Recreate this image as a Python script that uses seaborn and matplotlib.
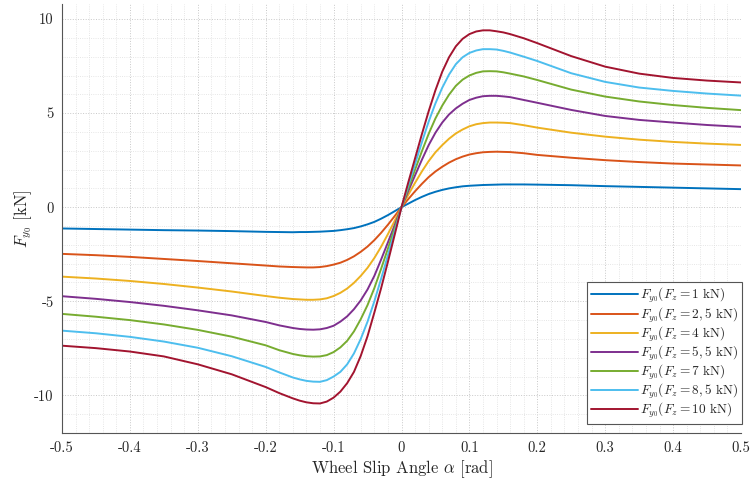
import numpy as np
import pandas as pd
import matplotlib
matplotlib.use("Agg")
import matplotlib.pyplot as plt
from matplotlib.ticker import MultipleLocator
import seaborn as sns

# ---- data (slip angle in rad, lateral force in kN) ----
alpha = [-0.50, -0.45, -0.40, -0.35, -0.30, -0.25, -0.20, -0.18,
         -0.16, -0.15, -0.14, -0.13, -0.12, -0.11, -0.10, -0.09,
         -0.08, -0.07, -0.06, -0.05, -0.04, -0.03, -0.02, -0.01,
         0.00,
         0.01, 0.02, 0.03, 0.04, 0.05, 0.06, 0.07, 0.08,
         0.09, 0.10, 0.11, 0.12, 0.13, 0.14, 0.15, 0.16,
         0.18, 0.20, 0.25, 0.30, 0.35, 0.40, 0.45, 0.50]

fy_1 = [-1.13, -1.16, -1.19, -1.22, -1.24, -1.27, -1.31, -1.32,
        -1.33, -1.32, -1.32, -1.31, -1.30, -1.28, -1.26, -1.22,
        -1.17, -1.11, -1.02, -0.91, -0.78, -0.61, -0.42, -0.21,
        0.00,
        0.19, 0.38, 0.55, 0.70, 0.82, 0.92, 1.00, 1.06,
        1.11, 1.14, 1.16, 1.18, 1.19, 1.20, 1.21, 1.21,
        1.21, 1.20, 1.17, 1.12, 1.08, 1.04, 1.00, 0.96]
fy_2_5 = [-2.48, -2.55, -2.64, -2.75, -2.86, -2.98, -3.10, -3.15,
          -3.18, -3.19, -3.20, -3.20, -3.18, -3.13, -3.05, -2.95,
          -2.80, -2.61, -2.37, -2.09, -1.75, -1.36, -0.93, -0.47,
          0.00,
          0.43, 0.85, 1.24, 1.60, 1.90, 2.15, 2.37, 2.55,
          2.69, 2.80, 2.87, 2.92, 2.94, 2.95, 2.94, 2.93,
          2.87, 2.78, 2.63, 2.50, 2.40, 2.32, 2.27, 2.22]
fy_4 = [-3.69, -3.79, -3.92, -4.08, -4.27, -4.48, -4.72, -4.81,
        -4.88, -4.90, -4.92, -4.92, -4.90, -4.84, -4.72, -4.55,
        -4.32, -4.02, -3.65, -3.22, -2.70, -2.10, -1.43, -0.72,
        0.00,
        0.66, 1.30, 1.90, 2.45, 2.92, 3.30, 3.64, 3.92,
        4.13, 4.30, 4.41, 4.47, 4.50, 4.50, 4.49, 4.47,
        4.36, 4.23, 3.96, 3.75, 3.59, 3.47, 3.38, 3.31]
fy_5_5 = [-4.73, -4.87, -5.04, -5.24, -5.48, -5.75, -6.10, -6.28,
          -6.42, -6.47, -6.50, -6.51, -6.49, -6.42, -6.30, -6.08,
          -5.80, -5.42, -4.95, -4.37, -3.65, -2.78, -1.87, -0.95,
          0.00,
          0.86, 1.70, 2.52, 3.30, 3.96, 4.50, 4.93, 5.25,
          5.50, 5.70, 5.82, 5.90, 5.92, 5.92, 5.89, 5.85,
          5.70, 5.55, 5.17, 4.85, 4.64, 4.50, 4.37, 4.27]
fy_7 = [-5.67, -5.82, -6.00, -6.23, -6.52, -6.88, -7.34, -7.60,
        -7.80, -7.87, -7.92, -7.94, -7.93, -7.86, -7.70, -7.45,
        -7.10, -6.60, -5.95, -5.20, -4.30, -3.27, -2.20, -1.10,
        0.00,
        1.00, 2.00, 2.97, 3.90, 4.72, 5.40, 5.98, 6.45,
        6.78, 7.00, 7.14, 7.22, 7.23, 7.22, 7.17, 7.10,
        6.95, 6.76, 6.25, 5.88, 5.62, 5.43, 5.28, 5.16]
fy_8_5 = [-6.56, -6.70, -6.89, -7.14, -7.47, -7.92, -8.49, -8.78,
          -9.05, -9.15, -9.23, -9.27, -9.28, -9.19, -9.00, -8.75,
          -8.35, -7.77, -7.00, -6.08, -5.00, -3.80, -2.55, -1.28,
          0.00,
          1.16, 2.30, 3.45, 4.55, 5.52, 6.35, 7.05, 7.60,
          7.97, 8.20, 8.33, 8.40, 8.40, 8.38, 8.31, 8.22,
          8.00, 7.77, 7.12, 6.66, 6.36, 6.18, 6.04, 5.93]
fy_10 = [-7.36, -7.49, -7.67, -7.93, -8.35, -8.88, -9.56, -9.88,
         -10.16, -10.28, -10.37, -10.42, -10.43, -10.33, -10.12, -9.80,
         -9.35, -8.75, -7.90, -6.85, -5.60, -4.30, -2.90, -1.46,
         0.00,
         1.32, 2.60, 3.88, 5.10, 6.22, 7.20, 7.97, 8.55,
         8.95, 9.20, 9.34, 9.40, 9.40, 9.35, 9.29, 9.20,
         8.98, 8.72, 8.03, 7.47, 7.10, 6.87, 6.73, 6.63]

series = [fy_1, fy_2_5, fy_4, fy_5_5, fy_7, fy_8_5, fy_10]
labels = [r"$F_{y_0}(F_z = 1\ \mathrm{kN})$",
          r"$F_{y_0}(F_z = 2,5\ \mathrm{kN})$",
          r"$F_{y_0}(F_z = 4\ \mathrm{kN})$",
          r"$F_{y_0}(F_z = 5,5\ \mathrm{kN})$",
          r"$F_{y_0}(F_z = 7\ \mathrm{kN})$",
          r"$F_{y_0}(F_z = 8,5\ \mathrm{kN})$",
          r"$F_{y_0}(F_z = 10\ \mathrm{kN})$"]
colors = ["#0072BD", "#D95319", "#EDB120", "#7E2F8E",
          "#77AC30", "#4DBEEE", "#A2142F"]
xticks = [-0.5, -0.4, -0.3, -0.2, -0.1, 0.0, 0.1, 0.2, 0.3, 0.4, 0.5]
xticklabels = ["-0.5", "-0.4", "-0.3", "-0.2", "-0.1", "0",
               "0.1", "0.2", "0.3", "0.4", "0.5"]

df = pd.concat([
    pd.DataFrame({"alpha": alpha, "Fy": s, "case": lab})
    for s, lab in zip(series, labels)
], ignore_index=True)

# ---- style ----
sns.set_style("white")
plt.rcParams.update({
    "font.family": "cmr10",
    "mathtext.fontset": "cm",
    "axes.unicode_minus": False,
    "axes.formatter.use_mathtext": False,
})

fig = plt.figure(figsize=(7.5, 4.79), dpi=100)
ax = fig.add_axes([62 / 750, 46 / 479, 679 / 750, 429 / 479])

sns.lineplot(data=df, x="alpha", y="Fy", hue="case", hue_order=labels,
             palette=colors, linewidth=1.4, ax=ax, legend=True)

ax.set_xlim(-0.5, 0.5)
ax.set_ylim(-12, 10.8)
ax.set_xticks(xticks)
ax.set_xticklabels(xticklabels)
ax.xaxis.set_minor_locator(MultipleLocator(0.02))
ax.yaxis.set_major_locator(MultipleLocator(5))
ax.yaxis.set_minor_locator(MultipleLocator(1))

ax.grid(True, which="major", linestyle=":", color="#c8c8c8", linewidth=0.7)
ax.grid(True, which="minor", linestyle=":", color="#dedede", linewidth=0.6)
ax.tick_params(which="major", direction="in", length=5, width=0.8,
               color="#555555", labelsize=10.5, pad=6)
ax.tick_params(which="minor", length=0)

for side in ["top", "right"]:
    ax.spines[side].set_visible(False)
for side in ["left", "bottom"]:
    ax.spines[side].set_color("#555555")
    ax.spines[side].set_linewidth(0.8)

ax.set_xlabel(r"Wheel Slip Angle $\alpha$ [rad]", fontsize=12, labelpad=2)
ax.set_ylabel(r"$F_{y_0}$ [kN]", fontsize=12, labelpad=0)

leg = ax.legend(loc="lower right", fontsize=9.6, frameon=True, fancybox=False,
                framealpha=1, edgecolor="#555555", handlelength=3.5,
                labelspacing=0.0, borderpad=0.3, handletextpad=0.2,
                borderaxespad=0.0, bbox_to_anchor=(1.002, 0.02))
leg.get_frame().set_linewidth(0.8)

fig.savefig("out.png", dpi=100)
